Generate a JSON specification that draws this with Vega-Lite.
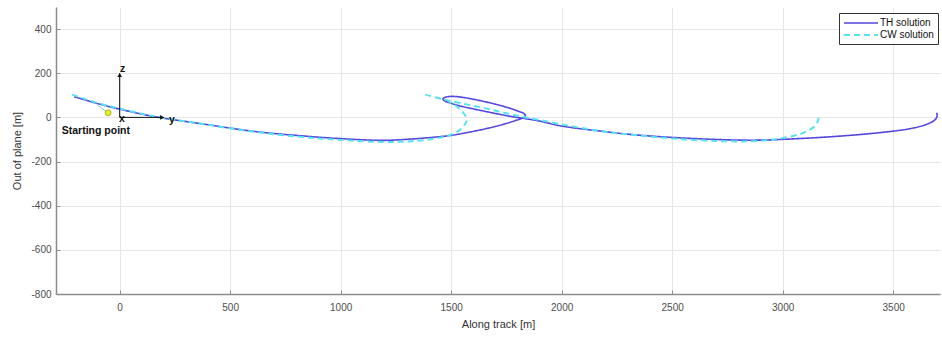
{
  "$schema": "https://vega.github.io/schema/vega-lite/v6.json",
  "width": 884,
  "height": 287,
  "autosize": {"type": "none"},
  "padding": {"left": 56, "top": 7, "right": 2, "bottom": 44},
  "background": "white",
  "config": {
    "view": {"stroke": null},
    "font": "Liberation Sans",
    "axis": {
      "gridColor": "#e6e6e6",
      "gridWidth": 1,
      "domainColor": "#8c8c8c",
      "domainWidth": 1.5,
      "tickColor": "#8c8c8c",
      "tickSize": -4,
      "labelFont": "Liberation Sans",
      "labelFontSize": 10,
      "labelColor": "#4d4d4d",
      "labelExpr": "'' + datum.value",
      "titleFont": "Liberation Sans",
      "titleFontSize": 11,
      "titleFontWeight": "normal",
      "titleColor": "#333333"
    }
  },
  "datasets": {
    "traj": [
      {"series": "TH solution", "seg": "TH", "i": 1, "x": -206, "y": 94},
      {"series": "TH solution", "seg": "TH", "i": 2, "x": -98, "y": 62},
      {"series": "TH solution", "seg": "TH", "i": 3, "x": -7, "y": 39},
      {"series": "TH solution", "seg": "TH", "i": 4, "x": 160, "y": 3},
      {"series": "TH solution", "seg": "TH", "i": 5, "x": 364, "y": -28},
      {"series": "TH solution", "seg": "TH", "i": 6, "x": 613, "y": -64},
      {"series": "TH solution", "seg": "TH", "i": 7, "x": 816, "y": -83},
      {"series": "TH solution", "seg": "TH", "i": 8, "x": 997, "y": -96},
      {"series": "TH solution", "seg": "TH", "i": 9, "x": 1192, "y": -104},
      {"series": "TH solution", "seg": "TH", "i": 10, "x": 1320, "y": -98},
      {"series": "TH solution", "seg": "TH", "i": 11, "x": 1420, "y": -90},
      {"series": "TH solution", "seg": "TH", "i": 12, "x": 1495, "y": -82},
      {"series": "TH solution", "seg": "TH", "i": 13, "x": 1586, "y": -66},
      {"series": "TH solution", "seg": "TH", "i": 14, "x": 1676, "y": -47},
      {"series": "TH solution", "seg": "TH", "i": 15, "x": 1744, "y": -29},
      {"series": "TH solution", "seg": "TH", "i": 16, "x": 1789, "y": -15},
      {"series": "TH solution", "seg": "TH", "i": 17, "x": 1822, "y": -3},
      {"series": "TH solution", "seg": "TH", "i": 18, "x": 1836, "y": 7},
      {"series": "TH solution", "seg": "TH", "i": 19, "x": 1830, "y": 17},
      {"series": "TH solution", "seg": "TH", "i": 20, "x": 1803, "y": 28},
      {"series": "TH solution", "seg": "TH", "i": 21, "x": 1767, "y": 41},
      {"series": "TH solution", "seg": "TH", "i": 22, "x": 1699, "y": 60},
      {"series": "TH solution", "seg": "TH", "i": 23, "x": 1631, "y": 76},
      {"series": "TH solution", "seg": "TH", "i": 24, "x": 1563, "y": 89},
      {"series": "TH solution", "seg": "TH", "i": 25, "x": 1510, "y": 95},
      {"series": "TH solution", "seg": "TH", "i": 26, "x": 1476, "y": 92},
      {"series": "TH solution", "seg": "TH", "i": 27, "x": 1463, "y": 84},
      {"series": "TH solution", "seg": "TH", "i": 28, "x": 1472, "y": 74},
      {"series": "TH solution", "seg": "TH", "i": 29, "x": 1500, "y": 64},
      {"series": "TH solution", "seg": "TH", "i": 30, "x": 1540, "y": 52},
      {"series": "TH solution", "seg": "TH", "i": 31, "x": 1617, "y": 35},
      {"series": "TH solution", "seg": "TH", "i": 32, "x": 1699, "y": 18},
      {"series": "TH solution", "seg": "TH", "i": 33, "x": 1767, "y": 5},
      {"series": "TH solution", "seg": "TH", "i": 34, "x": 1825, "y": -4},
      {"series": "TH solution", "seg": "TH", "i": 35, "x": 1902, "y": -17},
      {"series": "TH solution", "seg": "TH", "i": 36, "x": 1993, "y": -38},
      {"series": "TH solution", "seg": "TH", "i": 37, "x": 2174, "y": -62},
      {"series": "TH solution", "seg": "TH", "i": 38, "x": 2310, "y": -77},
      {"series": "TH solution", "seg": "TH", "i": 39, "x": 2504, "y": -91},
      {"series": "TH solution", "seg": "TH", "i": 40, "x": 2762, "y": -102},
      {"series": "TH solution", "seg": "TH", "i": 41, "x": 2900, "y": -103},
      {"series": "TH solution", "seg": "TH", "i": 42, "x": 2988, "y": -100},
      {"series": "TH solution", "seg": "TH", "i": 43, "x": 3214, "y": -88},
      {"series": "TH solution", "seg": "TH", "i": 44, "x": 3441, "y": -69},
      {"series": "TH solution", "seg": "TH", "i": 45, "x": 3577, "y": -51},
      {"series": "TH solution", "seg": "TH", "i": 46, "x": 3650, "y": -32},
      {"series": "TH solution", "seg": "TH", "i": 47, "x": 3688, "y": -12},
      {"series": "TH solution", "seg": "TH", "i": 48, "x": 3699, "y": 6},
      {"series": "TH solution", "seg": "TH", "i": 49, "x": 3697, "y": 21},
      {"series": "CW solution", "seg": "CW1", "i": 1, "x": -215, "y": 103},
      {"series": "CW solution", "seg": "CW1", "i": 2, "x": -100, "y": 65},
      {"series": "CW solution", "seg": "CW1", "i": 3, "x": 0, "y": 40},
      {"series": "CW solution", "seg": "CW1", "i": 4, "x": 160, "y": 4},
      {"series": "CW solution", "seg": "CW1", "i": 5, "x": 364, "y": -28},
      {"series": "CW solution", "seg": "CW1", "i": 6, "x": 613, "y": -66},
      {"series": "CW solution", "seg": "CW1", "i": 7, "x": 816, "y": -88},
      {"series": "CW solution", "seg": "CW1", "i": 8, "x": 997, "y": -102},
      {"series": "CW solution", "seg": "CW1", "i": 9, "x": 1192, "y": -111},
      {"series": "CW solution", "seg": "CW1", "i": 10, "x": 1320, "y": -108},
      {"series": "CW solution", "seg": "CW1", "i": 11, "x": 1420, "y": -97},
      {"series": "CW solution", "seg": "CW1", "i": 12, "x": 1495, "y": -80},
      {"series": "CW solution", "seg": "CW1", "i": 13, "x": 1535, "y": -60},
      {"series": "CW solution", "seg": "CW1", "i": 14, "x": 1560, "y": -35},
      {"series": "CW solution", "seg": "CW1", "i": 15, "x": 1570, "y": -15},
      {"series": "CW solution", "seg": "CW1", "i": 16, "x": 1566, "y": 5},
      {"series": "CW solution", "seg": "CW1", "i": 17, "x": 1554, "y": 22},
      {"series": "CW solution", "seg": "CW1", "i": 18, "x": 1540, "y": 37},
      {"series": "CW solution", "seg": "CW1", "i": 19, "x": 1518, "y": 55},
      {"series": "CW solution", "seg": "CW1", "i": 20, "x": 1490, "y": 70},
      {"series": "CW solution", "seg": "CW2", "i": 1, "x": 1383, "y": 103},
      {"series": "CW solution", "seg": "CW2", "i": 2, "x": 1464, "y": 82},
      {"series": "CW solution", "seg": "CW2", "i": 3, "x": 1560, "y": 61},
      {"series": "CW solution", "seg": "CW2", "i": 4, "x": 1650, "y": 42},
      {"series": "CW solution", "seg": "CW2", "i": 5, "x": 1740, "y": 21},
      {"series": "CW solution", "seg": "CW2", "i": 6, "x": 1825, "y": 2},
      {"series": "CW solution", "seg": "CW2", "i": 7, "x": 1900, "y": -12},
      {"series": "CW solution", "seg": "CW2", "i": 8, "x": 2000, "y": -32},
      {"series": "CW solution", "seg": "CW2", "i": 9, "x": 2174, "y": -62},
      {"series": "CW solution", "seg": "CW2", "i": 10, "x": 2310, "y": -78},
      {"series": "CW solution", "seg": "CW2", "i": 11, "x": 2504, "y": -96},
      {"series": "CW solution", "seg": "CW2", "i": 12, "x": 2700, "y": -107},
      {"series": "CW solution", "seg": "CW2", "i": 13, "x": 2850, "y": -108},
      {"series": "CW solution", "seg": "CW2", "i": 14, "x": 2960, "y": -100},
      {"series": "CW solution", "seg": "CW2", "i": 15, "x": 3030, "y": -88},
      {"series": "CW solution", "seg": "CW2", "i": 16, "x": 3080, "y": -75},
      {"series": "CW solution", "seg": "CW2", "i": 17, "x": 3115, "y": -60},
      {"series": "CW solution", "seg": "CW2", "i": 18, "x": 3145, "y": -40},
      {"series": "CW solution", "seg": "CW2", "i": 19, "x": 3158, "y": -20},
      {"series": "CW solution", "seg": "CW2", "i": 20, "x": 3162, "y": -3},
      {"series": "CW solution", "seg": "CW2", "i": 21, "x": 3160, "y": 6}
    ],
    "connector": [
      {"i": 1, "x": -98, "y": 53},
      {"i": 2, "x": -52, "y": 21}
    ],
    "arrows": [
      {"x": 0, "y": 0, "x2": 0, "y2": 200},
      {"x": 0, "y": 0, "x2": 200, "y2": 0}
    ],
    "heads": [
      {"x": 0, "y": 192, "shape": "triangle-up"},
      {"x": 192, "y": 0, "shape": "triangle-right"}
    ],
    "labels": [
      {"x": 10, "y": -7, "t": "x"},
      {"x": 236, "y": -14, "t": "y"},
      {"x": 14, "y": 219, "t": "z"}
    ],
    "start": [
      {"x": -52, "y": 21, "t": "Starting point", "tx": -262, "ty": -63}
    ]
  },
  "layer": [
    {
      "data": {"name": "traj"},
      "mark": {"type": "line", "clip": true, "interpolate": "catmull-rom"},
      "encoding": {
        "x": {
          "field": "x", "type": "quantitative",
          "scale": {"domain": [-288, 3712], "nice": false, "zero": false},
          "axis": {"values": [0, 500, 1000, 1500, 2000, 2500, 3000, 3500], "title": "Along track [m]", "labelPadding": 12, "titlePadding": 6}
        },
        "y": {
          "field": "y", "type": "quantitative",
          "scale": {"domain": [-800, 500], "nice": false, "zero": false},
          "axis": {"values": [-800, -600, -400, -200, 0, 200, 400], "title": "Out of plane [m]", "labelPadding": 9, "titlePadding": 8}
        },
        "color": {
          "field": "series", "type": "nominal",
          "scale": {"domain": ["TH solution", "CW solution"], "range": ["#5547dd", "#55e2f2"]},
          "legend": {
            "title": null, "orient": "none", "legendX": 783, "legendY": 6,
            "symbolType": "M-3.4,0H3.4", "symbolSize": 100, "symbolOffset": 12,
            "labelOffset": 13, "symbolStrokeWidth": 1.5, "padding": 4,
            "strokeColor": "#333333", "fillColor": "white", "labelFontSize": 10,
            "labelColor": "#111111", "rowPadding": 1, "labelFont": "Liberation Sans", "labelAlign": "left",
            "encode": {
              "symbols": {
                "update": {
                  "strokeDash": {"signal": "datum.value === 'CW solution' ? [6, 4] : [1, 0]"}
                }
              }
            }
          }
        },
        "strokeDash": {
          "field": "series", "type": "nominal",
          "scale": {"domain": ["TH solution", "CW solution"], "range": [[1, 0], [6, 4]]},
          "legend": null
        },
        "strokeWidth": {
          "field": "series", "type": "nominal",
          "scale": {"domain": ["TH solution", "CW solution"], "range": [1.6, 2]},
          "legend": null
        },
        "detail": {"field": "seg"},
        "order": {"field": "i", "type": "quantitative"}
      }
    },
    {
      "data": {"name": "connector"},
      "mark": {"type": "line", "color": "#7fd8ef", "strokeWidth": 1},
      "encoding": {
        "x": {"field": "x", "type": "quantitative"},
        "y": {"field": "y", "type": "quantitative"},
        "order": {"field": "i", "type": "quantitative"}
      }
    },
    {
      "data": {"name": "arrows"},
      "mark": {"type": "rule", "color": "#111111", "strokeWidth": 1},
      "encoding": {
        "x": {"field": "x", "type": "quantitative"},
        "y": {"field": "y", "type": "quantitative"},
        "x2": {"field": "x2"},
        "y2": {"field": "y2"}
      }
    },
    {
      "data": {"name": "heads"},
      "mark": {"type": "point", "filled": true, "color": "#111111", "size": 22, "opacity": 1},
      "encoding": {
        "x": {"field": "x", "type": "quantitative"},
        "y": {"field": "y", "type": "quantitative"},
        "shape": {"field": "shape", "type": "nominal", "scale": null}
      }
    },
    {
      "data": {"name": "start"},
      "mark": {"type": "point", "filled": true, "fill": "#e4ee2c", "stroke": "#a9b91c", "strokeWidth": 1, "size": 34, "opacity": 1},
      "encoding": {
        "x": {"field": "x", "type": "quantitative"},
        "y": {"field": "y", "type": "quantitative"}
      }
    },
    {
      "data": {"name": "labels"},
      "mark": {"type": "text", "font": "Liberation Sans", "fontWeight": "bold", "fontSize": 10.5, "color": "#111111", "align": "center", "baseline": "middle"},
      "encoding": {
        "x": {"field": "x", "type": "quantitative"},
        "y": {"field": "y", "type": "quantitative"},
        "text": {"field": "t"}
      }
    },
    {
      "data": {"name": "start"},
      "mark": {"type": "text", "font": "Liberation Sans", "fontWeight": "bold", "fontSize": 10.5, "color": "#111111", "align": "left", "baseline": "middle"},
      "encoding": {
        "x": {"field": "tx", "type": "quantitative"},
        "y": {"field": "ty", "type": "quantitative"},
        "text": {"field": "t"}
      }
    }
  ]
}
